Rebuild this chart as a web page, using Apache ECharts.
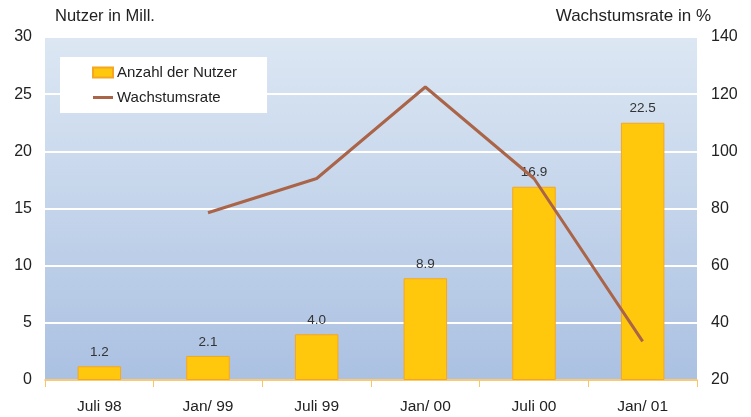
<html>
<head>
    <meta charset="utf-8">
    <title>Nutzer und Wachstumsrate</title>
    <script src="https://cdn.jsdelivr.net/npm/echarts@6/dist/echarts.min.js"></script>
    <style>
        html, body { margin: 0; padding: 0; background: #fff; }
        #main { width: 751px; height: 417px; }
    </style>
</head>
<body>
<div id="main"></div>
<script>
    // Daten
    var categories = ['Juli 98', 'Jan/ 99', 'Juli 99', 'Jan/ 00', 'Juli 00', 'Jan/ 01'];
    var nutzer = [1.2, 2.1, 4.0, 8.9, 16.9, 22.5];
    var wachstum = [null, 78.5, 90.5, 122.5, 90.5, 33.5];
    var leftTicks = [0, 30, 5];    // min, max, interval
    var rightTicks = [20, 140, 20];

    var myChart = echarts.init(document.getElementById('main'));

    var option = {
        animation: false,
        textStyle: { fontFamily: 'Liberation Sans, Arial, sans-serif' },
        graphic: [
            { type: 'text', left: 55, top: 8, style: { text: 'Nutzer in Mill.', fontSize: 16.5, fill: '#222', fontFamily: 'Liberation Sans' } },
            { type: 'text', right: 40, top: 8, style: { text: 'Wachstumsrate in %', fontSize: 17, fill: '#222', fontFamily: 'Liberation Sans' } }
        ],
        legend: {
            left: 60,
            top: 57,
            orient: 'vertical',
            backgroundColor: '#fff',
            padding: [8, 30, 8, 32],
            itemGap: 10,
            itemWidth: 20,
            itemHeight: 10,
            textStyle: { fontSize: 15, color: '#222', padding: [0, 0, 0, -1] },
            data: [
                { name: 'Anzahl der Nutzer', icon: 'rect' },
                { name: 'Wachstumsrate', icon: 'path://M0,0 L20,0 L20,3 L0,3 Z' }
            ]
        },
        grid: {
            left: 45,
            right: 54,
            top: 37,
            bottom: 37,
            show: true,
            borderWidth: 0,
            backgroundColor: new echarts.graphic.LinearGradient(0, 0, 0, 1, [
                { offset: 0, color: '#dce7f3' },
                { offset: 1, color: '#abc1e2' }
            ])
        },
        xAxis: {
            type: 'category',
            data: categories,
            axisLine: { lineStyle: { color: '#f7b84a', width: 1.5 } },
            axisTick: { show: true, length: 7, lineStyle: { color: '#f7c56a' } },
            axisLabel: { fontSize: 15.5, color: '#222', margin: 19 }
        },
        yAxis: [
            {
                type: 'value',
                min: leftTicks[0], max: leftTicks[1], interval: leftTicks[2],
                axisLine: { show: false },
                axisTick: { show: false },
                axisLabel: { fontSize: 16, color: '#222', margin: 13 },
                splitLine: { lineStyle: { color: '#fff', width: 2 } }
            },
            {
                type: 'value',
                min: rightTicks[0], max: rightTicks[1], interval: rightTicks[2],
                axisLine: { show: false },
                axisTick: { show: false },
                axisLabel: { fontSize: 16, color: '#222', margin: 14 },
                splitLine: { show: false }
            }
        ],
        series: [
            {
                name: 'Anzahl der Nutzer',
                type: 'bar',
                data: nutzer,
                barWidth: '40%',
                itemStyle: { color: '#ffc80c', borderColor: '#f5a623', borderWidth: 1 },
                label: {
                    show: true,
                    position: 'top',
                    distance: 7,
                    fontSize: 13.5,
                    color: '#333',
                    formatter: function (p) { return p.value.toFixed(1); }
                }
            },
            {
                name: 'Wachstumsrate',
                type: 'line',
                yAxisIndex: 1,
                data: wachstum,
                symbol: 'none',
                lineStyle: { color: '#aa6448', width: 3 },
                itemStyle: { color: '#aa6448' }
            }
        ]
    };

    myChart.setOption(option);
</script>
</body>
</html>
